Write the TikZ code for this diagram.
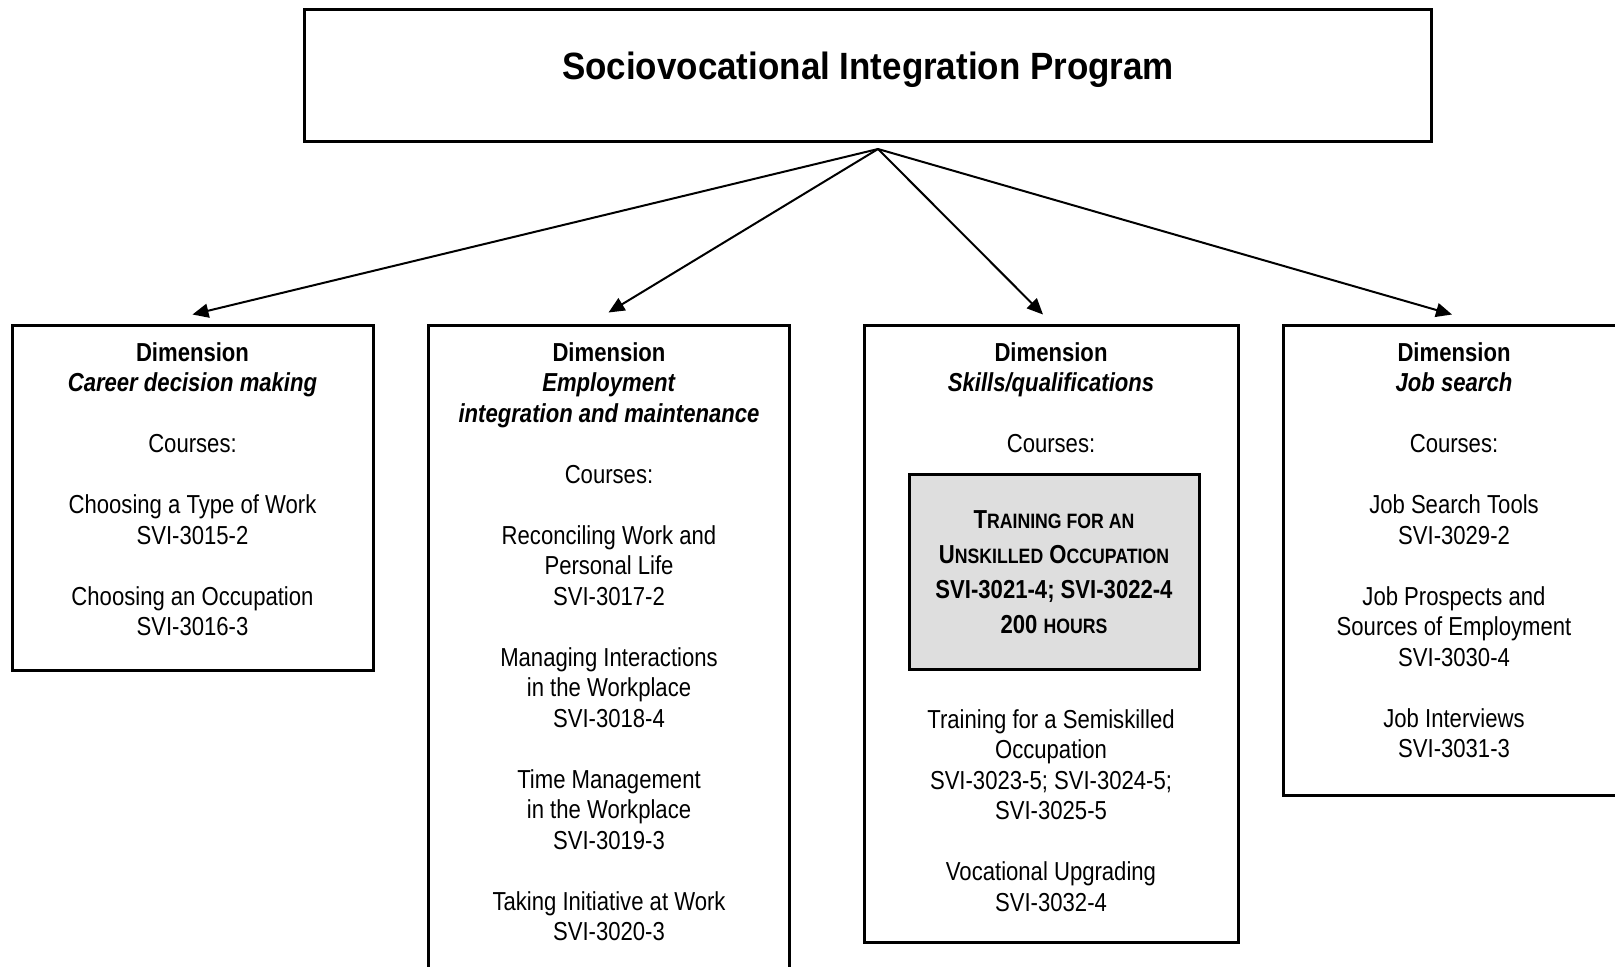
\documentclass[tikz,border=0pt]{standalone}
\usepackage{fontspec}
\setmainfont{Liberation Sans}[FakeStretch=0.85]
\newfontfamily\titlefont{Liberation Sans}[FakeStretch=0.92]
\usetikzlibrary{arrows.meta}

\newcommand{\smallcap}[1]{{\fontsize{10.4pt}{10.4pt}\selectfont #1}}

\begin{document}
\begin{tikzpicture}[x=0.5pt, y=-0.5pt,
    box/.style={draw, line width=1.5pt, inner sep=0pt},
    link/.style={line width=1pt, -{Triangle[length=8pt, width=7pt]}},
    body/.style={inner sep=0pt, align=center, anchor=north,
      font=\fontsize{13pt}{15.25pt}\selectfont}]
    \useasboundingbox (0,0) rectangle (1615,966);
    \clip (0,0) rectangle (1615,966);

    % Program box
    \node[box, minimum width=563.5pt, minimum height=66pt, text height=14pt, text depth=9.5pt,
      font=\titlefont\fontsize{19pt}{22pt}\selectfont\bfseries] (prog) at (868,75)
      {Sociovocational Integration Program};
    \coordinate (hub) at (878,149);

    % Dimension boxes
    \node[box, minimum width=180.5pt, minimum height=172.5pt] (dimA) at (192.5,497.5) {};
    \node[box, minimum width=180.5pt, minimum height=332.5pt] (dimB) at (608.5,657.5) {};
    \node[box, minimum width=187pt, minimum height=308.5pt] (dimC) at (1051,633.5) {};
    \node[box, minimum width=171pt, minimum height=235pt] (dimD) at (1454,560) {};

    % Texts in the boxes
    \node[body] (textA) at (192.5,342) {\textbf{Dimension}\\
      \textbf{\textit{Career decision making}}\\[15.25pt]
      Courses:\\[15.25pt]
      Choosing a Type of Work\\ SVI-3015-2\\[15.25pt]
      Choosing an Occupation\\ SVI-3016-3};
    \node[body] (textB) at (609,342) {\textbf{Dimension}\\
      \textbf{\textit{Employment}}\\
      \textbf{\textit{integration and maintenance}}\\[15.25pt]
      Courses:\\[15.25pt]
      Reconciling Work and\\ Personal Life\\ SVI-3017-2\\[15.25pt]
      Managing Interactions\\ in the Workplace\\ SVI-3018-4\\[15.25pt]
      Time Management\\ in the Workplace\\ SVI-3019-3\\[15.25pt]
      Taking Initiative at Work\\ SVI-3020-3};
    \node[body] (textC) at (1051,342) {\textbf{Dimension}\\
      \textbf{\textit{Skills/qualifications}}\\[15.25pt]
      Courses:};
    \node[body] (textC2) at (1051,709) {Training for a Semiskilled\\ Occupation\\
      SVI-3023-5; SVI-3024-5;\\ SVI-3025-5\\[15.25pt]
      Vocational Upgrading\\ SVI-3032-4};
    \node[body] (textD) at (1454,342) {\textbf{Dimension}\\
      \textbf{\textit{Job search}}\\[15.25pt]
      Courses:\\[15.25pt]
      Job Search Tools\\ SVI-3029-2\\[15.25pt]
      Job Prospects and\\ Sources of Employment\\ SVI-3030-4\\[15.25pt]
      Job Interviews\\ SVI-3031-3};

    % Highlighted course
    \node[box, fill=black!13, minimum width=145pt, minimum height=97.5pt, align=center,
      font=\fontsize{13pt}{17.4pt}\selectfont\bfseries] (unskilled) at (1054,572)
      {T\smallcap{RAINING FOR AN}\\
       U\smallcap{NSKILLED} O\smallcap{CCUPATION}\\
       SVI-3021-4; SVI-3022-4\\
       200 \smallcap{HOURS}};

    % Arrows
    \draw[link] (hub) -- ([yshift=4.5pt]dimA.north);
    \draw[link] (hub) -- ([yshift=5.5pt]dimB.north);
    \draw[link] (hub) -- ([xshift=-4pt, yshift=4.5pt]dimC.north);
    \draw[link] (hub) -- ([xshift=-1pt, yshift=4.5pt]dimD.north);
\end{tikzpicture}
\end{document}
